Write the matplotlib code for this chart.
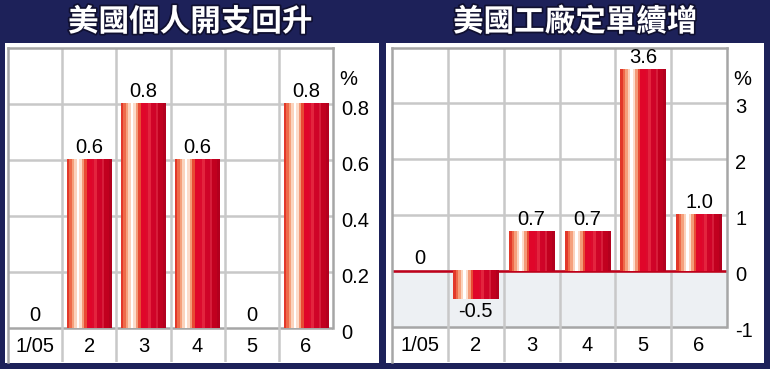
import numpy as np
import matplotlib
matplotlib.use("Agg")
import matplotlib.pyplot as plt
import matplotlib.patheffects as pe
from matplotlib.patches import Rectangle
from matplotlib.transforms import ScaledTranslation

# data
months = ["1/05", "2", "3", "4", "5", "6"]
spending = [0, 0.6, 0.8, 0.6, 0, 0.8]
spending_labels = ["0", "0.6", "0.8", "0.6", "0", "0.8"]
orders = [0, -0.5, 0.7, 0.7, 3.6, 1.0]
orders_labels = ["0", "-0.5", "0.7", "0.7", "3.6", "1.0"]
title_left = "美國個人開支回升"
title_right = "美國工廠定單續增"
ticks_left = [0, 0.2, 0.4, 0.6, 0.8]
ticks_left_labels = ["0", "0.2", "0.4", "0.6", "0.8"]
ticks_right = [-1, 0, 1, 2, 3]
ticks_right_labels = ["-1", "0", "1", "2", "3"]

NAVY = "#1d2159"
GRID = "#c8c8c8"
FRAME = "#a6a6a6"
NUMFONT = ["Liberation Sans", "DejaVu Sans"]
CJKFONT = ["Noto Sans CJK TC", "DejaVu Sans"]

# vertical stripes used to fake the shaded bars
stripes = ["#e2382a", "#ee6a4a", "#f5a07c", "#fbd3bd", "#ffffff", "#fcdccb",
           "#f39a78", "#e84a34", "#e0062a", "#e0062a", "#dc0a2e", "#e3243e",
           "#d00428", "#cf0328", "#d61d3a", "#c2001f", "#c0001f", "#b3001e"]
stripe_img = np.array([[matplotlib.colors.to_rgb(c) for c in stripes]])

W, H = 770, 369
fig = plt.figure(figsize=(W / 100, H / 100), dpi=100)
fig.patch.set_facecolor(NAVY)

# white panels
for x0, x1 in [(5, 379), (386, 764)]:
    fig.patches.append(Rectangle((x0 / W, 6 / H), (x1 - x0) / W, (363 - 43) / H,
                                 transform=fig.transFigure, facecolor="white",
                                 edgecolor="none", zorder=-5))

for cx, t in [(190, title_left), (575, title_right)]:
    fig.text(cx / W, 1 - 22 / H, t, ha="center", va="center", color="white",
             fontsize=22, fontweight="bold", family=CJKFONT,
             path_effects=[pe.withStroke(linewidth=2.5, foreground="#101030")])


def draw_panel(rect, values, labels, ybottom, ytop, ticks, tick_labels, negative_band):
    ax = fig.add_axes(rect)
    ax.set_facecolor("none")
    n = len(values)
    ax.spines["bottom"].set_visible(False)
    for s in ["left", "top", "right"]:
        ax.spines[s].set_color(FRAME)
        ax.spines[s].set_linewidth(1.8)
    low = -1 if negative_band else 0
    ax.spines["right"].set_bounds(low, ytop)

    if negative_band:
        ax.axhspan(-1, 0, color="#edf0f3", zorder=0)
    # grid
    for t in ticks:
        if t > low:
            ax.axhline(t, color=GRID, lw=1.8, zorder=1)
    ax.axhline(low, color=FRAME, lw=1.8, zorder=1)
    for i in range(1, n):
        ax.axvline(i - 0.5, color=GRID, lw=1.8, zorder=1)
    if negative_band:
        ax.axhline(0, color="#c0001a", lw=1.8, zorder=2)

    w = 0.82
    for i, v in enumerate(values):
        if v != 0:
            ax.imshow(stripe_img, extent=[i - w / 2, i + w / 2, 0, v], aspect="auto",
                      interpolation="nearest", zorder=3)
        if v < 0:
            ax.annotate(labels[i], (i, v), xytext=(0, -2), textcoords="offset points",
                        ha="center", va="top", fontsize=14.5, family=NUMFONT)
        else:
            ax.annotate(labels[i], (i, v), xytext=(0, 2), textcoords="offset points",
                        ha="center", va="bottom", fontsize=14.5, family=NUMFONT)
    ax.set_xlim(-0.5, n - 0.5)
    ax.set_ylim(ybottom, ytop)

    # month labels in the row under the plot
    for i, m in enumerate(months):
        ax.text(i, (low + ybottom) / 2 - (ytop - ybottom) * 0.004, m, ha="center",
                va="center", fontsize=14.5, family=NUMFONT)

    ax.set_xticks([])
    ax.yaxis.tick_right()
    ax.set_yticks(ticks)
    ax.set_yticklabels(tick_labels, family=NUMFONT, fontsize=14.5)
    ax.tick_params(axis="y", length=0, pad=6)
    off = ScaledTranslation(0, -3 / 100, fig.dpi_scale_trans)
    for lab in ax.get_yticklabels():
        lab.set_transform(lab.get_transform() + off)
    ax.text(1.02, 0.9, "%", transform=ax.transAxes, ha="left", va="center",
            fontsize=14.5, family=NUMFONT)
    return ax


ax1 = draw_panel([8 / W, 7 / H, 325 / W, 314 / H], spending, spending_labels,
                 -0.121, 1.0, ticks_left, ticks_left_labels, False)
ax2 = draw_panel([392 / W, 7 / H, 335 / W, 314 / H], orders, orders_labels,
                 -1.625, 3.98, ticks_right, ticks_right_labels, True)

fig.savefig("out.png", dpi=100, facecolor=NAVY)
